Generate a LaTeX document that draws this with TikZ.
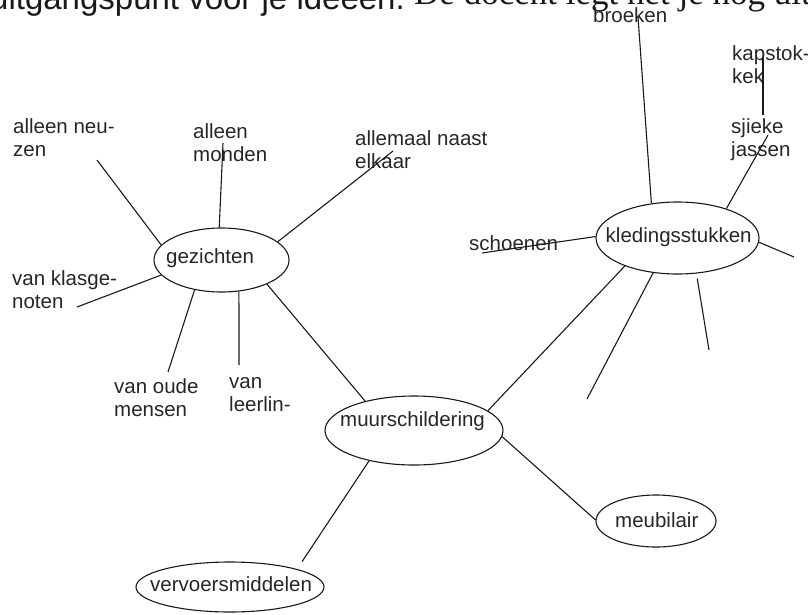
\documentclass[tikz,border=0pt]{standalone}
\usepackage{fontspec}
\setmainfont{Liberation Sans}
\newfontfamily\serifft{Liberation Serif}
\usetikzlibrary{shapes.geometric}
\begin{document}
\begin{tikzpicture}[x=1pt,y=-1pt,
  lbl/.style={font=\fontsize{20.5}{23}\selectfont, text=black!85, inner sep=0pt, anchor=base west, align=left},
  oval/.style={ellipse, draw=black!90, line width=1.1pt, inner sep=0pt},
  spoke/.style={draw=black!90, line width=1.1pt}]
\clip (0,0) rectangle (808,614);
\useasboundingbox (0,0) rectangle (808,614);

% title line, cut off at the top
\node[inner sep=0pt, anchor=base west, text=black!90, font=\fontsize{33}{37}\selectfont] (t1) at (-10,9) {uitgangspunt voor je ideeën.};
\node[inner sep=0pt, anchor=base west, text=black!90, font=\serifft\fontsize{35}{40}\selectfont] (t2) at (414,4) {De docent legt het je nog uit};

% ellipses
\node[oval, minimum width=135pt, minimum height=64pt] (gez) at (221.5,260) {};
\node[oval, minimum width=163pt, minimum height=72pt] (kled) at (677.5,238) {};
\node[oval, minimum width=178pt, minimum height=69pt] (muur) at (414,430.5) {};
\node[oval, minimum width=188pt, minimum height=50pt] (verv) at (230,587) {};
\node[oval, minimum width=120pt, minimum height=52pt] (meub) at (656,521) {};

% texts in ellipses
\node[lbl] (gezT) at (166,263) {gezichten};
\node[lbl] (kledT) at (605.5,242) {kledingsstukken};
\node[lbl] (muurT) at (340,426) {muurschildering};
\node[lbl] (vervT) at (150,591) {vervoersmiddelen};
\node[lbl] (meubT) at (615,527) {meubilair};

% free labels (anchored at the baseline of their last line)
\node[lbl] (neu) at (13,156) {alleen neu-\\zen};
\node[lbl] (mon) at (193,161) {alleen\\monden};
\node[lbl] (naast) at (355,168) {allemaal naast\\elkaar};
\node[lbl] (klas) at (12,308) {van klasge-\\noten};
\node[lbl] (oude) at (114,416) {van oude\\mensen};
\node[lbl] (leer) at (229,411) {van\\leerlin-};
\node[lbl] (broek) at (593,22) {broeken};
\node[lbl] (kap) at (732,83) {kapstok-\\kek};
\node[lbl] (jas) at (731,156) {sjieke\\jassen};
\node[lbl] (schoen) at (469,250) {schoenen};

% free ends of spokes
\coordinate (nA) at (97,160);
\coordinate (mA) at (223,143);
\coordinate (eA) at (393,151);
\coordinate (kA) at (77,307);
\coordinate (oA) at (168,372);
\coordinate (lA) at (239,365);
\coordinate (bA) at (638,17);
\coordinate (kp1) at (763,58);
\coordinate (kp2) at (763,115);
\coordinate (jA) at (768,135);
\coordinate (sA) at (482,253);
\coordinate (rA) at (794,257);
\coordinate (d2) at (587,399);
\coordinate (d3) at (709,350);

% gezichten spokes
\draw[spoke] (gez.166) -- (nA);
\draw[spoke] (gez.94) -- (mA);
\draw[spoke] (gez.18) -- (eA);
\draw[spoke] (gez.-166) -- (kA);
\draw[spoke] (gez.-132) -- (oA);
\draw[spoke] (gez.-61) -- (lA);

% kledingsstukken spokes
\draw[spoke] (kled.127) -- (bA);
\draw[spoke] (kp1) -- (kp2);
\draw[spoke] (kled.31) -- (jA);
\draw[spoke] (kled.179) -- (sA);
\draw[spoke] (kled.-3) -- (rA);
\draw[spoke] (kled.-125) -- (d2);
\draw[spoke, shorten <=5pt] (kled.-62) -- (d3);

% main links
\draw[spoke] (gez.-28) -- (muur.149);
\draw[spoke] (kled.-152) -- (muur.15);
\draw[spoke] (muur.-4) -- (meub.179);
\draw[spoke, shorten >=9pt] (muur.-146) -- (verv.15);
\end{tikzpicture}
\end{document}
